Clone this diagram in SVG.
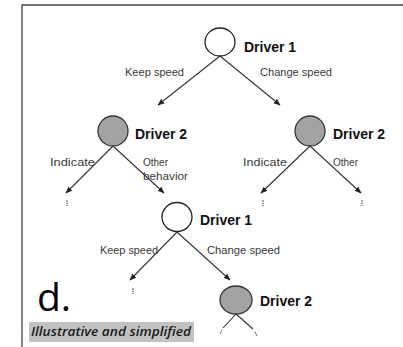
<svg xmlns="http://www.w3.org/2000/svg" width="403" height="347" viewBox="0 0 403 347">
  <style>
    .node-open { fill: #ffffff; stroke: #222; stroke-width: 1.3; }
    .node-grey { fill: #a3a3a3; stroke: #333; stroke-width: 1.3; }
    .name { font-family: "Liberation Sans", Arial, sans-serif; font-weight: bold; font-size: 14px; fill: #111; }
    .act { font-family: "Liberation Sans", Arial, sans-serif; font-size: 10px; fill: #3a3a3a; }
    .edge { stroke: #333; stroke-width: 1.1; fill: none; }
    .dots { stroke: #555; stroke-width: 1.2; stroke-dasharray: 1.5 1; }
  </style>
  <defs>
    <marker id="head" viewBox="0 0 10 10" refX="9" refY="5" markerWidth="7" markerHeight="7" markerUnits="userSpaceOnUse" orient="auto">
      <path d="M0,1 L10,5 L0,9 Z" fill="#222"/>
    </marker>
  </defs>

  <rect width="403" height="347" fill="#ffffff"/>
  <!-- frame -->
  <path d="M22,347 V5 H403" fill="none" stroke="#444" stroke-width="1.3"/>

  <!-- connectors -->
  <g id="connectors">
    <line class="edge" x1="220" y1="56" x2="158" y2="105" marker-end="url(#head)"/>
    <line class="edge" x1="220" y1="56" x2="280" y2="105" marker-end="url(#head)"/>
    <line class="edge" x1="113" y1="146" x2="66" y2="193" marker-end="url(#head)"/>
    <line class="edge" x1="113" y1="146" x2="164" y2="193" marker-end="url(#head)"/>
    <line class="edge" x1="310" y1="146" x2="261" y2="193" marker-end="url(#head)"/>
    <line class="edge" x1="310" y1="146" x2="361" y2="193" marker-end="url(#head)"/>
    <line class="edge" x1="177" y1="232" x2="130" y2="280" marker-end="url(#head)"/>
    <line class="edge" x1="177" y1="232" x2="230" y2="280" marker-end="url(#head)"/>
    <line class="edge" x1="236" y1="314" x2="223" y2="328"/>
    <line class="edge" x1="236" y1="314" x2="253" y2="329"/>
    <line class="dots" x1="222" y1="330" x2="220" y2="334"/>
    <line class="dots" x1="255" y1="332" x2="257" y2="336"/>
    <!-- continuation marks -->
    <line class="dots" x1="67" y1="200" x2="67" y2="206"/>
    <line class="dots" x1="263" y1="200" x2="263" y2="206"/>
    <line class="dots" x1="362" y1="200" x2="362" y2="206"/>
    <line class="dots" x1="133" y1="288" x2="133" y2="294"/>
    <!-- action labels -->
    <text class="act" x="125" y="76" textLength="59" lengthAdjust="spacingAndGlyphs">Keep speed</text>
    <text class="act" x="260" y="76" textLength="72" lengthAdjust="spacingAndGlyphs">Change speed</text>
    <text class="act" x="50" y="166" textLength="45" lengthAdjust="spacingAndGlyphs">Indicate</text>
    <text class="act" x="143" y="166">Other</text>
    <text class="act" x="143" y="180" textLength="45" lengthAdjust="spacingAndGlyphs">behavior</text>
    <text class="act" x="243" y="166" textLength="44" lengthAdjust="spacingAndGlyphs">Indicate</text>
    <text class="act" x="333" y="166">Other</text>
    <text class="act" x="100" y="254" textLength="58" lengthAdjust="spacingAndGlyphs">Keep speed</text>
    <text class="act" x="207" y="254" textLength="73" lengthAdjust="spacingAndGlyphs">Change speed</text>
  </g>

  <g id="driver1-root">
    <ellipse class="node-open" cx="220" cy="42" rx="15" ry="14"/>
    <text class="name" x="244" y="52">Driver 1</text>
  </g>
  <g id="driver2-left">
    <ellipse class="node-grey" cx="113" cy="131" rx="15" ry="15"/>
    <text class="name" x="135" y="139">Driver 2</text>
  </g>
  <g id="driver2-right">
    <ellipse class="node-grey" cx="310" cy="131" rx="15" ry="15"/>
    <text class="name" x="333" y="139">Driver 2</text>
  </g>
  <g id="driver1-lower">
    <ellipse class="node-open" cx="177" cy="217" rx="15" ry="14.5"/>
    <text class="name" x="200" y="225">Driver 1</text>
  </g>
  <g id="driver2-lower">
    <ellipse class="node-grey" cx="236" cy="300" rx="16" ry="14"/>
    <text class="name" x="260" y="306">Driver 2</text>
  </g>

  <text x="37" y="311" font-family="Open Sans, Liberation Sans, sans-serif" font-size="39" fill="#000">d.</text>

  <g id="caption">
    <rect x="29" y="322" width="165" height="20" fill="#c2c2c2"/>
    <text x="31" y="336" font-family="Open Sans, Liberation Sans, sans-serif" font-style="italic" font-weight="600" font-size="13" fill="#1a1a1a" textLength="160" lengthAdjust="spacingAndGlyphs">Illustrative and simplified</text>
  </g>
</svg>
